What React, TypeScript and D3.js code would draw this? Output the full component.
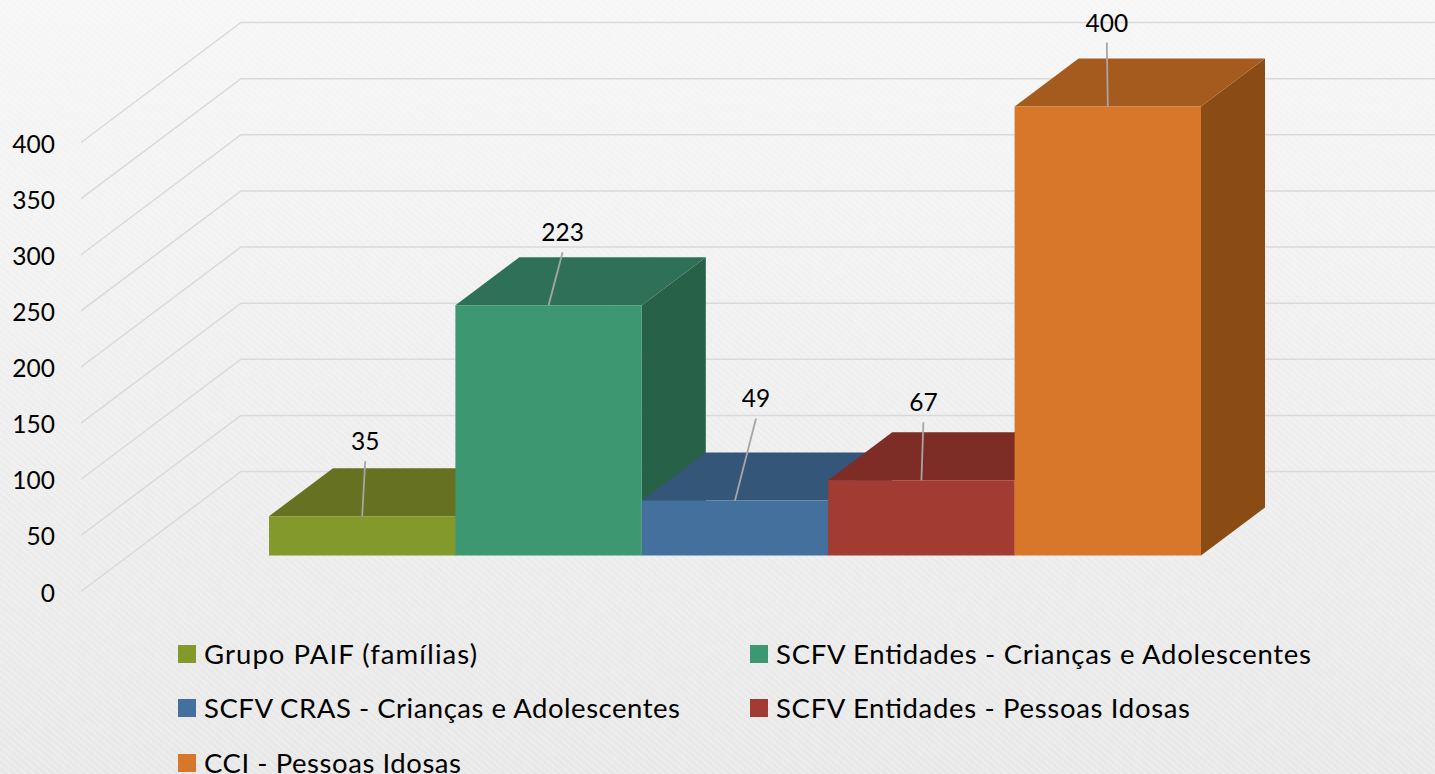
import React from 'react';
import * as d3 from 'd3';

const categories = [
  'Grupo PAIF (famílias)',
  'SCFV Entidades - Crianças e Adolescentes',
  'SCFV CRAS - Crianças e Adolescentes',
  'SCFV Entidades - Pessoas Idosas',
  'CCI - Pessoas Idosas',
];
const values = [35, 223, 49, 67, 400];
const yTicks = [0, 50, 100, 150, 200, 250, 300, 350, 400];
const frontColors = ['#84992b', '#3d9771', '#44709e', '#a23c33', '#d87629'];
const topColors = ['#667222', '#2f7158', '#345678', '#7d2c26', '#a55b1e'];
const sideColors = ['#4f5a1a', '#266148', '#2a4561', '#64231e', '#8a4b15'];

// leader line start, relative to the middle of the bar's top front edge
const leaderDx = [3, 14, 21, 2, -1];
const leaderDy = [-55, -53, -82, -58, -64];

// Lato is not Calibri, so stretch each legend text to the width it has in the picture
const legendWidths = [273, 535, 476, 414, 257];

const width = 1435;
const height = 774;
const font = 'Lato, "Open Sans", sans-serif';

// projection: value goes up, depth goes back and to the right
const yScale = d3.scaleLinear().domain([0, 400]).range([591.5, 142.5]);
const depthX = d3.scaleLinear().domain([0, 1]).range([0, 160]);
const depthY = d3.scaleLinear().domain([0, 1]).range([0, -120]);

const barFront = 0.3;
const barBack = 0.7;
const xScale = d3.scaleBand().domain(categories).range([221, 1153]).padding(0);

const project = (x: number, v: number, z: number): [number, number] => [
  x + depthX(z),
  yScale(v) + depthY(z),
];

const line = d3.line();
const poly = (pts: [number, number][]) => line(pts) + 'Z';

const legendColX = [178, 750];
const legendRowY = [654, 708, 763];

export default function App() {
  const floorLeft = 81;
  return (
    <svg
      width={width}
      height={height}
      style={{ position: 'fixed', left: 0, top: 0, fontFamily: font }}
    >
      <defs>
        <linearGradient id="bg" x1="0" y1="0" x2="0" y2="1">
          <stop offset="0" stopColor="#f6f6f6" />
          <stop offset="0.5" stopColor="#eeeeee" />
          <stop offset="1" stopColor="#e7e7e7" />
        </linearGradient>
        <pattern id="grain" width="5" height="5" patternUnits="userSpaceOnUse" patternTransform="rotate(40)">
          <rect width="5" height="2" fill="#ffffff" opacity="0.2" />
        </pattern>
        <filter id="noise" x="0" y="0" width="100%" height="100%">
          <feTurbulence type="fractalNoise" baseFrequency="0.09" numOctaves={2} seed={4} />
          <feColorMatrix values="0 0 0 0 1  0 0 0 0 1  0 0 0 0 1  0.5 0 0 0 -0.15" />
        </filter>
      </defs>
      <rect width={width} height={height} fill="url(#bg)" />
      <rect width={width} height={height} fill="url(#grain)" />
      <rect width={width} height={height} filter="url(#noise)" opacity={0.35} />

      {/* gridlines: side wall then back wall */}
      {yTicks.map(t => (
        <path
          key={t}
          d={line([project(floorLeft, t, 0), project(floorLeft, t, 1), project(width + 10, t, 1)]) as string}
          fill="none"
          stroke="#d9d9d9"
          strokeWidth={1.5}
        />
      ))}

      {yTicks.map(t => (
        <text key={t} x={55} y={yScale(t) + 10} textAnchor="end" fontSize={24.5} fill="#000">
          {t}
        </text>
      ))}

      {/* bars, left to right so each one covers the side of the previous */}
      {categories.map((c, i) => {
        const x0 = xScale(c) as number;
        const x1 = x0 + xScale.bandwidth();
        const v = values[i];
        return (
          <g key={c}>
            <path
              d={poly([project(x1, 0, barFront), project(x1, 0, barBack), project(x1, v, barBack), project(x1, v, barFront)])}
              fill={sideColors[i]}
            />
            <path
              d={poly([project(x0, v, barFront), project(x0, v, barBack), project(x1, v, barBack), project(x1, v, barFront)])}
              fill={topColors[i]}
            />
            <path
              d={poly([project(x0, 0, barFront), project(x1, 0, barFront), project(x1, v, barFront), project(x0, v, barFront)])}
              fill={frontColors[i]}
            />
          </g>
        );
      })}

      {/* data labels with leader lines */}
      {categories.map((c, i) => {
        const [cx, cy] = project((xScale(c) as number) + xScale.bandwidth() / 2, values[i], barFront);
        const sx = cx + leaderDx[i];
        const sy = cy + leaderDy[i];
        return (
          <g key={c}>
            <line x1={sx} y1={sy} x2={cx} y2={cy} stroke="#a6a6a6" strokeWidth={1.8} />
            <text x={sx} y={sy - 11} textAnchor="middle" fontSize={24.5} fill="#000">
              {values[i]}
            </text>
          </g>
        );
      })}

      {/* legend, two columns */}
      {categories.map((c, i) => {
        const lx = legendColX[i % 2];
        const ly = legendRowY[Math.floor(i / 2)];
        return (
          <g key={c}>
            <rect x={lx} y={ly - 9} width={18} height={18} fill={frontColors[i]} />
            <text
              x={lx + 26}
              y={ly + 10}
              fontSize={27.5}
              textLength={legendWidths[i]}
              lengthAdjust="spacing"
              fill="#000"
            >
              {c}
            </text>
          </g>
        );
      })}
    </svg>
  );
}
